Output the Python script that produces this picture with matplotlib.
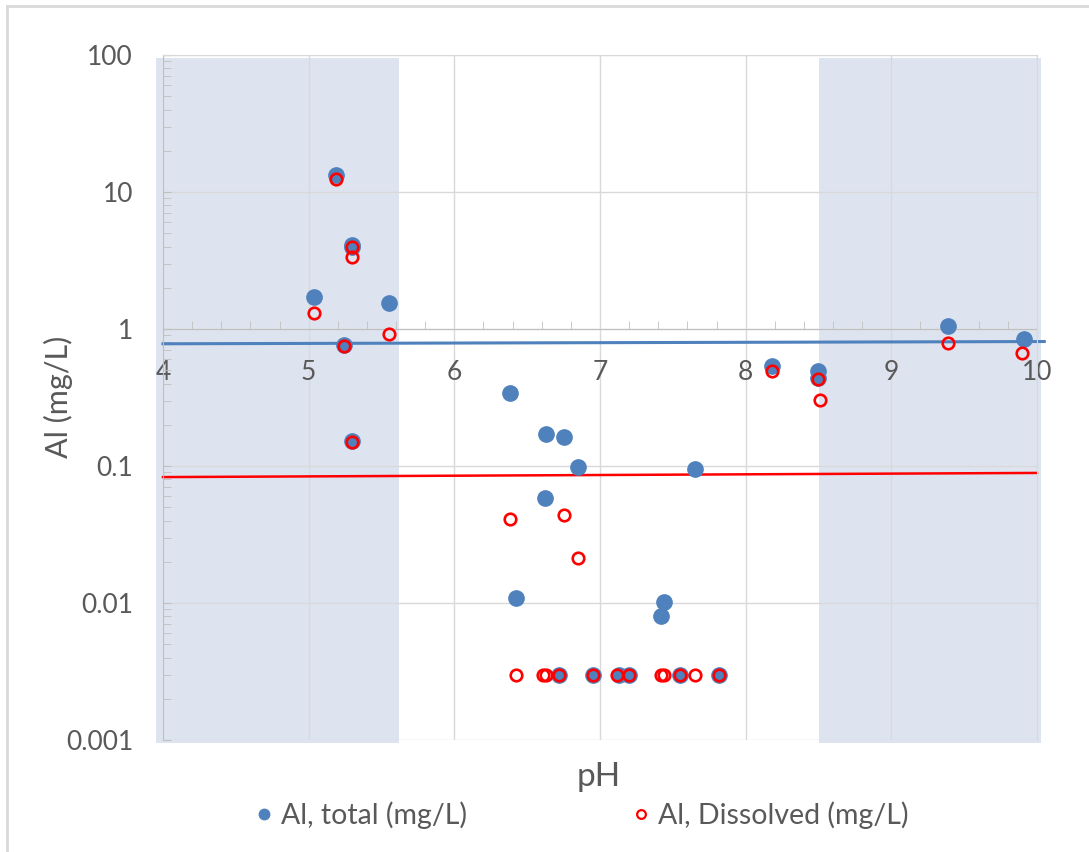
import matplotlib

matplotlib.use("Agg")
import matplotlib.pyplot as plt
from matplotlib.lines import Line2D
from matplotlib.ticker import FixedLocator, LogLocator, NullFormatter, FixedFormatter
import matplotlib.transforms as mtransforms

################################################################################

PH_TOTAL = [5.04, 5.19, 5.24, 5.30, 5.30, 5.30, 5.55, 6.38, 6.42, 6.62, 6.63,
            6.72, 6.75, 6.85, 6.95, 7.13, 7.20, 7.42, 7.44, 7.55, 7.65, 7.82,
            8.18, 8.50, 8.50, 9.39, 9.91]
AL_TOTAL = [1.72, 13.2, 0.76, 4.1, 3.98, 0.153, 1.54, 0.34, 0.0109, 0.0587, 0.171,
            0.003, 0.164, 0.098, 0.003, 0.003, 0.003, 0.008, 0.0101, 0.003, 0.0946, 0.003,
            0.54, 0.49, 0.44, 1.05, 0.845]

PH_DISS = [5.04, 5.19, 5.24, 5.30, 5.30, 5.30, 5.55, 6.38, 6.42, 6.61, 6.63,
           6.72, 6.75, 6.85, 6.95, 7.12, 7.20, 7.42, 7.44, 7.55, 7.65, 7.82,
           8.18, 8.50, 8.51, 9.39, 9.90]
AL_DISS = [1.30, 12.4, 0.75, 3.95, 3.35, 0.150, 0.92, 0.0408, 0.003, 0.003, 0.003,
           0.003, 0.0436, 0.0213, 0.003, 0.003, 0.003, 0.003, 0.003, 0.003, 0.003, 0.003,
           0.49, 0.43, 0.305, 0.79, 0.665]

# guideline lines
BLUE_LINE_X = [4.0, 10.05]
BLUE_LINE_Y = [0.78, 0.81]
RED_LINE_X = [4.0, 10.0]
RED_LINE_Y = [0.083, 0.089]

# shaded pH bands
BANDS = [(3.95, 5.62), (8.505, 10.03)]

X_TICKS = [4, 5, 6, 7, 8, 9, 10]
Y_TICKS = [0.001, 0.01, 0.1, 1, 10, 100]
Y_LABELS = ["0.001", "0.01", "0.1", "1", "10", "100"]

BLUE = "#4F81BD"
RED = "#FF0000"
SHADE = "#DDE4F0"
TEXT = "#595959"
GRID = "#D9D9D9"
AXIS = "#BFBFBF"

################################################################################


def main():
    fig = make_fig()
    fig.savefig("out.png", dpi=100)


################################################################################


def make_fig():
    fig = plt.figure(figsize=(10.89, 8.52), dpi=100)
    ax = fig.add_axes([163 / 1089, 1 - 740 / 852, (1037 - 163) / 1089, (740 - 55) / 852])
    ax.set_yscale("log")
    ax.set_xlim(4, 10)
    ax.set_ylim(0.001, 100)
    ax.set_axisbelow(True)
    ##
    trans = mtransforms.blended_transform_factory(ax.transData, ax.transAxes)
    for x0, x1 in BANDS:
        ax.add_patch(plt.Rectangle((x0, -0.004), x1 - x0, 1.0, transform=trans,
                                   color=SHADE, lw=0, zorder=0.2, clip_on=False))
    ##
    ax.grid(True, which="major", color=GRID, lw=1.0, zorder=0.5)
    ##
    for name in ["left", "top", "right"]:
        ax.spines[name].set_color(GRID)
    ax.spines["left"].set_color(AXIS)
    ax.spines["bottom"].set_position(("data", 1))
    ax.spines["bottom"].set_color(AXIS)
    ax.spines["bottom"].set_zorder(0.6)
    ##
    ax.xaxis.set_major_locator(FixedLocator(X_TICKS))
    ax.xaxis.set_minor_locator(FixedLocator([4 + 0.2 * i for i in range(31)]))
    ax.tick_params(axis="x", which="major", length=0, pad=22.5, labelsize=19, labelcolor=TEXT)
    ax.tick_params(axis="x", which="minor", direction="in", length=6, color=AXIS)
    ##
    ax.yaxis.set_major_locator(FixedLocator(Y_TICKS))
    ax.yaxis.set_major_formatter(FixedFormatter(Y_LABELS))
    ax.yaxis.set_minor_locator(LogLocator(base=10, subs=range(2, 10)))
    ax.yaxis.set_minor_formatter(NullFormatter())
    ax.tick_params(axis="y", which="both", direction="in", length=6, color=AXIS,
                   pad=21.5, labelsize=19, labelcolor=TEXT)
    for lab in ax.get_xticklabels() + ax.get_yticklabels():
        lab.set_family("Lato")
    ##
    ax.plot(BLUE_LINE_X, BLUE_LINE_Y, color=BLUE, lw=2.2, zorder=2, clip_on=False)
    ax.plot(RED_LINE_X, RED_LINE_Y, color=RED, lw=1.8, zorder=2, clip_on=False)
    ##
    ax.plot(PH_TOTAL, AL_TOTAL, "o", ms=11, color=BLUE, mec=BLUE, zorder=3, clip_on=False)
    ax.plot(PH_DISS, AL_DISS, "o", ms=8.3, mfc="none", mec=RED, mew=1.9, zorder=4,
            clip_on=False)
    ##
    fig.text(599 / 1089, 1 - 786 / 852, "pH", ha="center", va="baseline",
             fontsize=24, color=TEXT, family="Lato")
    fig.text(58 / 1089, 1 - 397 / 852, "Al (mg/L)", ha="center", va="center",
             rotation=90, fontsize=22, color=TEXT, family="Lato")
    ##
    handles = [
        Line2D([], [], ls="none", marker="o", ms=7.5, color=BLUE),
        Line2D([], [], ls="none", marker="o", ms=6.3, mfc="none", mec=RED, mew=1.6),
    ]
    fig.legend(handles, ["Al, total (mg/L)", "Al, Dissolved (mg/L)"],
               loc="center", bbox_to_anchor=(579 / 1089, 1 - 815 / 852), ncol=2,
               frameon=False, columnspacing=5.6, handletextpad=0.1, handlelength=1.0,
               prop={"family": "Lato", "size": 20.5}, labelcolor=TEXT)
    ##
    fig.add_artist(Line2D([7 / 1089, 7 / 1089], [0, 1 - 6 / 852],
                          transform=fig.transFigure, color=GRID, lw=2))
    fig.add_artist(Line2D([7 / 1089, 1], [1 - 6 / 852, 1 - 6 / 852],
                          transform=fig.transFigure, color=GRID, lw=2))
    return fig


################################################################################

main()
